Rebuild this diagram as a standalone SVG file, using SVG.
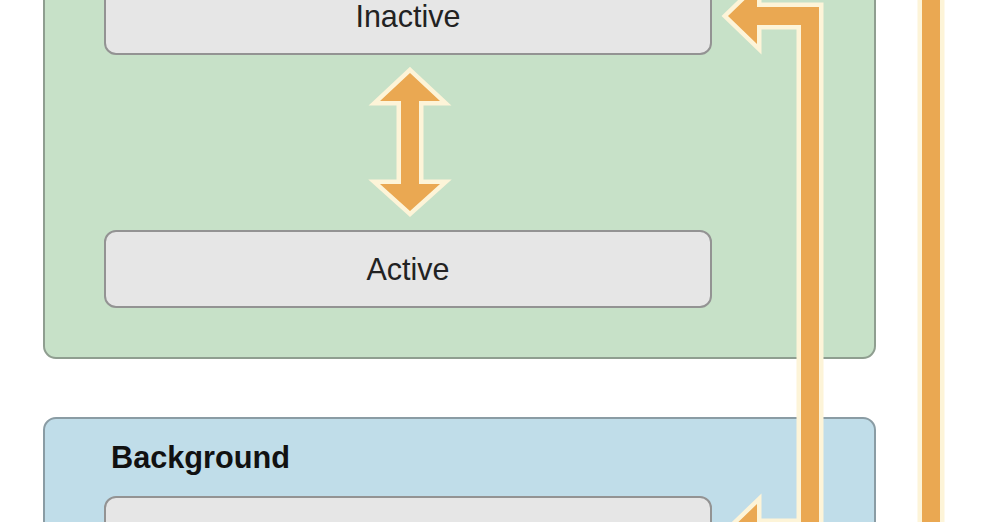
<svg xmlns="http://www.w3.org/2000/svg" width="994" height="522" viewBox="0 0 994 522">
  <style>
    .container-green { fill: #c7e1c8; stroke: #8f9e90; stroke-width: 2; }
    .container-blue { fill: #c0dde9; stroke: #8a9ca4; stroke-width: 2; }
    .state { fill: #e6e6e6; stroke: #939393; stroke-width: 2; }
    .label { font-family: "Liberation Sans", Arial, sans-serif; font-size: 30.5px; fill: #222; text-anchor: middle; }
    .title { font-family: "Liberation Sans", Arial, sans-serif; font-size: 30.7px; font-weight: bold; fill: #111; }
    .arrow { fill: #eaa852; stroke: #fdf4d8; stroke-width: 9; paint-order: stroke; stroke-linejoin: miter; stroke-miterlimit: 3; }
  </style>
  <rect width="994" height="522" fill="#ffffff"/>
  <g id="foreground">
    <rect class="container-green" x="44" y="-60" width="831" height="418" rx="12"/>
  </g>
  <g id="inactive">
    <rect class="state" x="105" y="-22" width="606" height="76" rx="11"/>
    <text class="label" x="408" y="27">Inactive</text>
  </g>
  <g id="active">
    <rect class="state" x="105" y="231" width="606" height="76" rx="11"/>
    <text class="label" x="408" y="280">Active</text>
  </g>
  <g id="background">
    <rect class="container-blue" x="44" y="418" width="831" height="160" rx="12"/>
    <text class="title" x="111" y="468">Background</text>
  </g>
  <g id="background-state">
    <rect class="state" x="105" y="497" width="606" height="76" rx="11"/>
  </g>
  <g id="connectors">
    <polygon class="arrow" points="410,73 440,101 419,101 419,184 440,184 410,211 380,184 401,184 401,101 380,101"/>
    <polygon class="arrow" points="819,580 819,7 757,7 757,-12 728,16 757,44 757,25 801,25 801,523 757,523 757,504 728,532 757,560 757,541 801,541 801,580"/>
    <rect class="arrow" x="922" y="-20" width="18" height="560"/>
  </g>
</svg>
